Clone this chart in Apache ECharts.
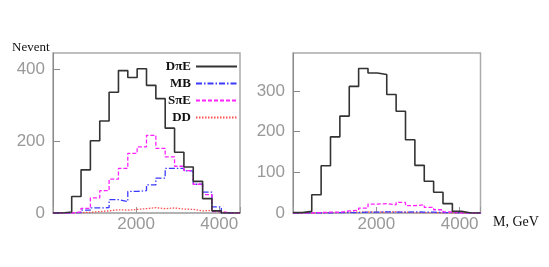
<!DOCTYPE html>
<html>
<head>
<meta charset="utf-8">
<script src="https://cdn.jsdelivr.net/npm/echarts@6/dist/echarts.min.js"></script>
<style>
html,body{margin:0;padding:0;background:#fff;}
#chart{width:549px;height:267px;}
</style>
</head>
<body>
<div id="chart"></div>
<script>
// Bin left edges (GeV) and upper edge of last bin
const binStarts = [0, 225, 450, 675, 900, 1125, 1350, 1575, 1800, 2025, 2250, 2475, 2700, 2925, 3150, 3375, 3600, 3825, 4050, 4275];
const binEnd = 4500;

// Left panel
const leftDpiE = [0, 3, 46, 120, 201, 256, 336, 396, 377, 401, 355, 318, 236, 169, 128, 88, 40, 6, 0, 0];
const leftMB   = [0, 0, 1, 8, 14, 15, 37, 32, 60, 62, 78, 97, 124, 124, 117, 80, 58, 17, 0, 0];
const leftSpiE = [0, 0, 3, 13, 42, 62, 94, 124, 166, 184, 216, 180, 156, 130, 118, 80, 51, 4, 0, 0];
const leftDD   = [0, 0, 1, 2, 4, 6, 9, 8, 10, 12, 15, 12, 14, 11, 10, 6, 7, 3, 0, 0];

// Right panel
const rightDpiE = [1, 4, 45, 116, 187, 238, 311, 355, 344, 340, 291, 250, 180, 117, 78, 51, 23, 4, 0, 0];
const rightMB   = [0, 0, 0, 0, 1, 1, 1, 2, 2, 3, 2, 2, 3, 2, 2, 1, 1, 0, 0, 0];
const rightSpiE = [0, 0, 1, 2, 2, 5, 7, 12, 22, 23, 20, 26, 18, 20, 14, 8, 3, 0, 0, 0];
const rightDD   = [0, 0, 0, 1, 1, 2, 2, 3, 2, 2, 3, 2, 1, 1, 1, 0, 0, 0, 0, 0];

const seriesNames = ['D\u03c0E', 'MB', 'S\u03c0E', 'DD'];
const yTicksLeft = 200, yTicksRight = 100, xTicks = 2000;

function steps(vals) {
  return binStarts.map((x, i) => [x, vals[i]]).concat([[binEnd, vals[vals.length - 1]]]);
}

const styles = [
  {color: '#333333', width: 1.6, type: 'solid', z: 5},
  {color: '#3a3aff', width: 1.3, type: [6, 2, 1.5, 2], z: 3},
  {color: '#ff22ff', width: 1.3, type: [4, 2], z: 4},
  {color: '#ff5050', width: 1.3, type: [1.5, 1.5], z: 2}
];

function mkSeries(vals, idx, axis) {
  const s = styles[idx];
  return {
    name: seriesNames[idx], type: 'line', step: 'end', data: steps(vals),
    xAxisIndex: axis, yAxisIndex: axis, symbol: 'none', z: s.z,
    color: s.color,
    lineStyle: {color: s.color, width: s.width, type: s.type},
    animation: false, silent: true
  };
}

const labelColor = '#999999';
function xAxis(gi) {
  return {
    type: 'value', gridIndex: gi, min: 0, max: binEnd, interval: xTicks,
    axisLine: {show: true, lineStyle: {color: '#b0b0b0', width: 1.5}},
    axisTick: {show: true, inside: true, length: 6, lineStyle: {color: '#999'}},
    splitLine: {show: false},
    axisLabel: {color: labelColor, fontSize: 17, fontFamily: 'Liberation Sans, Arial', margin: 3,
      formatter: v => (v === 0 || v === binEnd) ? '' : String(v)}
  };
}
function yAxis(gi, maxv, interval) {
  return {
    type: 'value', gridIndex: gi, min: 0, max: maxv, interval: interval,
    axisLine: {show: true, lineStyle: {color: '#8a8a8a', width: 1}},
    axisTick: {show: true, inside: true, length: 7, lineStyle: {color: '#8a8a8a'}},
    splitLine: {show: false},
    axisLabel: {color: labelColor, fontSize: 17, fontFamily: 'Liberation Sans, Arial', margin: 8,
      showMaxLabel: false}
  };
}

const chart = echarts.init(document.getElementById('chart'), null, {renderer: 'canvas'});
chart.setOption({
  animation: false,
  backgroundColor: '#ffffff',
  grid: [
    {left: 53, top: 53, width: 187, height: 160, show: true, borderColor: '#ababab', borderWidth: 1.5, backgroundColor: 'transparent'},
    {left: 293, top: 53, width: 187.5, height: 160, show: true, borderColor: '#ababab', borderWidth: 1.5, backgroundColor: 'transparent'}
  ],
  xAxis: [xAxis(0), xAxis(1)],
  yAxis: [yAxis(0, 445, yTicksLeft), yAxis(1, 393, yTicksRight)],
  legend: {
    data: seriesNames, orient: 'vertical', align: 'right',
    right: 311, top: 60, padding: 0, itemWidth: 41, itemHeight: 10, itemGap: 4,
    selectedMode: false,
    itemStyle: {opacity: 0},
    textStyle: {fontFamily: 'Liberation Serif, Times New Roman, serif', fontWeight: 'bold', fontSize: 13, color: '#111', lineHeight: 13}
  },
  graphic: [
    {type: 'text', left: 12, top: 41, style: {text: 'Nevent', font: '13px "Liberation Serif", serif', fill: '#111'}},
    {type: 'text', left: 493, top: 215, style: {text: 'M, GeV', font: '14px "Liberation Serif", serif', fill: '#111'}}
  ],
  series: [
    mkSeries(leftDD, 3, 0), mkSeries(leftMB, 1, 0), mkSeries(leftSpiE, 2, 0), mkSeries(leftDpiE, 0, 0),
    mkSeries(rightDD, 3, 1), mkSeries(rightMB, 1, 1), mkSeries(rightSpiE, 2, 1), mkSeries(rightDpiE, 0, 1)
  ]
});
</script>
</body>
</html>
